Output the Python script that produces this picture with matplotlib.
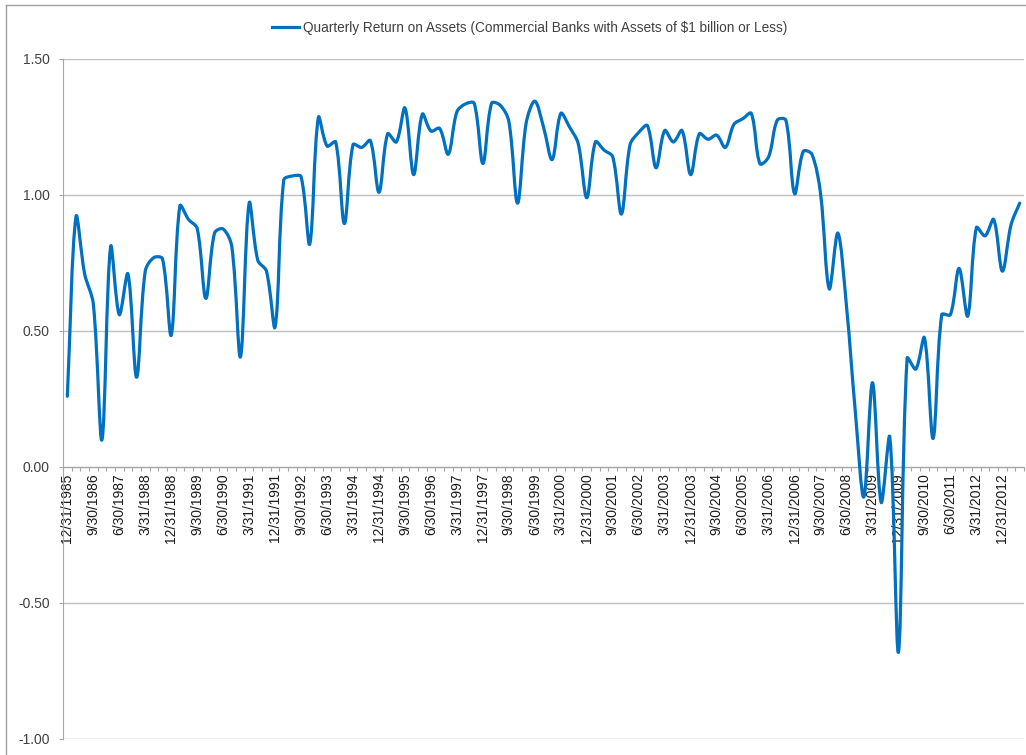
import numpy as np
import pandas as pd
import matplotlib
matplotlib.use("Agg")
import matplotlib.pyplot as plt
from matplotlib.path import Path
from matplotlib.patches import PathPatch
from matplotlib.lines import Line2D

# ---- data -------------------------------------------------------------
quarters = pd.date_range("1985-12-31", periods=111, freq="QE")
categories = [f"{d.month}/{d.day}/{d.year}" for d in quarters]

roa = [0.26, 0.92, 0.71, 0.60, 0.10, 0.81, 0.56, 0.71, 0.33, 0.72,
       0.77, 0.765, 0.485, 0.96, 0.91, 0.877, 0.62, 0.86, 0.875, 0.81,
       0.405, 0.97, 0.76, 0.72, 0.515, 1.055, 1.07, 1.067, 0.82, 1.285,
       1.18, 1.195, 0.895, 1.185, 1.175, 1.20, 1.01, 1.225, 1.195, 1.32,
       1.075, 1.297, 1.235, 1.245, 1.15, 1.306, 1.335, 1.337, 1.116, 1.337,
       1.33, 1.27, 0.97, 1.265, 1.345, 1.25, 1.13, 1.30, 1.25, 1.19,
       0.99, 1.195, 1.165, 1.14, 0.93, 1.185, 1.23, 1.255, 1.10, 1.237,
       1.195, 1.237, 1.075, 1.225, 1.205, 1.22, 1.175, 1.26, 1.28, 1.30,
       1.115, 1.14, 1.275, 1.275, 1.005, 1.16, 1.15, 1.005, 0.655, 0.86,
       0.59, 0.21, -0.11, 0.31, -0.13, 0.11, -0.68, 0.40, 0.36, 0.475,
       0.105, 0.56, 0.56, 0.73, 0.555, 0.88, 0.85, 0.91, 0.72, 0.89,
       0.97]

yticks = [-1.0, -0.5, 0.0, 0.5, 1.0, 1.5]
label_every = 3
series_name = "Quarterly Return on Assets (Commercial Banks with Assets of $1 billion or Less)"

# ---- style ------------------------------------------------------------
LINE_COLOR = "#0070C0"
GRID_COLOR = "#BFBFBF"
AXIS_COLOR = "#A6A6A6"
plt.rcParams["font.family"] = ["Liberation Sans", "DejaVu Sans"]

W, H = 1026, 755
fig = plt.figure(figsize=(W / 100, H / 100), dpi=100)
ax = fig.add_axes([63 / W, 1 - 739 / H, (1024 - 63) / W, (739 - 59) / H])
ax.set_xlim(-0.5, len(roa) - 0.5)
ax.set_ylim(-1.0, 1.5)

# ---- smoothed line (Excel-like Bezier, computed in screen proportions) ----
x = np.arange(len(roa), dtype=float)
y = np.asarray(roa, dtype=float)
sx = ax.bbox.width / (ax.get_xlim()[1] - ax.get_xlim()[0])
sy = ax.bbox.height / (ax.get_ylim()[1] - ax.get_ylim()[0])
P = np.column_stack([x * sx, y * sy])
n = len(P)
tension = 1.0 / 3.0
c_in = np.zeros_like(P)
c_out = np.zeros_like(P)
for i in range(n):
    prev_p = P[max(i - 1, 0)]
    next_p = P[min(i + 1, n - 1)]
    d1 = np.linalg.norm(P[i] - prev_p)
    d2 = np.linalg.norm(next_p - P[i])
    T = next_p - prev_p
    tot = d1 + d2 if d1 + d2 > 0 else 1.0
    c_in[i] = P[i] - T * tension * d1 / tot
    c_out[i] = P[i] + T * tension * d2 / tot
verts = [P[0]]
codes = [Path.MOVETO]
for i in range(n - 1):
    verts += [c_out[i], c_in[i + 1], P[i + 1]]
    codes += [Path.CURVE4] * 3
verts = np.array(verts) / np.array([sx, sy])
path = Path(verts, codes)
ax.add_patch(PathPatch(path, facecolor="none", edgecolor=LINE_COLOR,
                       lw=2.3, capstyle="round", joinstyle="round", zorder=3))
handle = Line2D([], [], color=LINE_COLOR, lw=2.3, label=series_name)

# y axis
ax.set_yticks(yticks)
ax.set_yticklabels([f"{v:.2f}" for v in yticks])
ax.yaxis.grid(True, color=GRID_COLOR, lw=1.0)
ax.set_axisbelow(True)
ax.tick_params(axis="y", length=3, width=0.8, color=AXIS_COLOR, pad=6.5,
               labelsize=10, labelcolor="#404040", direction="out")

# x axis at y = 0
ax.spines["bottom"].set_position(("data", 0))
ax.spines["bottom"].set_color(AXIS_COLOR)
ax.spines["left"].set_color(AXIS_COLOR)
ax.spines["top"].set_visible(False)
ax.spines["right"].set_visible(False)
ax.set_xticks(x[::label_every])
ax.set_xticklabels(categories[::label_every], rotation=90, ha="center", va="top")
ax.set_xticks(np.arange(-0.5, len(roa), 1.0), minor=True)
ax.tick_params(axis="x", which="major", length=0, pad=4.5, labelsize=10,
               labelcolor="#1a1a1a")
ax.tick_params(axis="x", which="minor", length=3, width=0.8, color=AXIS_COLOR,
               direction="out")

# legend
fig.legend(handles=[handle], loc="center", bbox_to_anchor=(530 / W, 1 - 28 / H),
           frameon=False, fontsize=9.8, handlelength=2.0, handletextpad=0.3,
           labelcolor="#404040")

# chart border (left and top edges visible)
fig.add_artist(Line2D([6 / W, 6 / W], [0, 1 - 5 / H], transform=fig.transFigure,
                      color="#A0A0A0", lw=1.0))
fig.add_artist(Line2D([6 / W, 1], [1 - 5 / H, 1 - 5 / H], transform=fig.transFigure,
                      color="#A0A0A0", lw=1.0))

fig.savefig("out.png", dpi=100)
